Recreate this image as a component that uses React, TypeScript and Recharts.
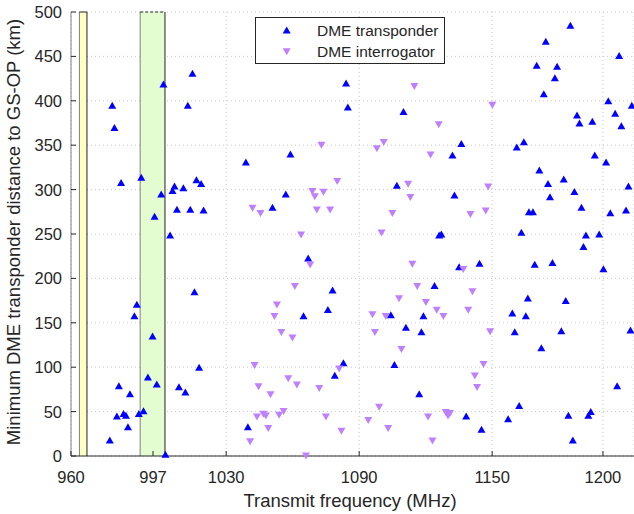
import React from "react";
import {
  ScatterChart,
  Scatter,
  XAxis,
  YAxis,
  CartesianGrid,
  ReferenceArea,
  ReferenceLine,
  Legend,
} from "recharts";

// DME transponders (MHz, km)
const transponderFreq = [
  978.6, 979.6, 1001.7, 1014.8, 1012.7, 1038.9, 982.6, 991.7, 1000.7, 1006.7,
  1005.8, 1010.7, 1016.6, 1018.7, 1007.8, 1013.8, 1019.8, 997.7, 1004.7, 1015.7,
  989.7, 988.6, 996.8, 1017.8, 994.7, 981.6, 998.7, 986.6, 1008.7, 1011.6,
  980.7, 983.7, 984.8, 990.6, 992.7, 985.7, 977.5, 1002.6, 1039.8, 1084.1,
  1084.9, 1110, 1059, 1107, 1056.9, 1050.9, 1126.1, 1067, 1078, 1075.9,
  1064.9, 1124, 1104.3, 1119, 1111.1, 1118.1, 1082.9, 1079, 1105.9, 1117.1,
  1185.3, 1174.2, 1207.3, 1170.1, 1179.3, 1178.3, 1173.3, 1202.4, 1213, 1205.5,
  1188.3, 1189.4, 1195.2, 1208.3, 1136.1, 1132.1, 1161.1, 1164.3, 1196.3, 1201.4,
  1171.3, 1175.2, 1182.3, 1187.1, 1211.5, 1176.1, 1133, 1190.3, 1166.6, 1168.4,
  1203.3, 1210.4, 1127.1, 1163.2, 1192.3, 1198.3, 1191.2, 1135.1, 1144.3, 1169.2,
  1177.2, 1200.2, 1166.1, 1183.2, 1159.1, 1165.2, 1160.2, 1181.2, 1212.4, 1172.2,
  1206.4, 1162.2, 1138.3, 1157.2, 1184.4, 1193.4, 1194.5, 1145.2, 1186.4,
];
const transponderDist = [
  395, 370, 419, 431, 395, 331, 308, 314, 295, 304,
  299, 302, 311, 307, 278, 278, 277, 270, 249, 185,
  171, 158, 135, 100, 89, 79, 81, 70, 78, 72,
  45, 48, 46, 48, 51, 33, 18, 2, 33, 420,
  393, 388, 340, 305, 295, 280, 249, 223, 187, 165,
  158, 192, 159, 158, 145, 140, 105, 91, 103, 70,
  485, 467, 451, 440, 439, 426, 408, 400, 395, 386,
  384, 375, 377, 372, 352, 339, 348, 354, 339, 331,
  322, 307, 312, 298, 304, 292, 294, 280, 275, 275,
  274, 277, 250, 252, 249, 250, 236, 213, 217, 216,
  218, 211, 178, 175, 161, 158, 140, 141, 142, 122,
  79, 57, 45, 42, 46, 46, 50, 30, 18,
];

// DME interrogators (MHz, km)
const interrogatorFreq = [
  1041.9, 1045.5, 1042.8, 1044.6, 1043.9, 1040.8, 1114.9, 1125.9, 1073, 1098,
  1101.1, 1122.2, 1080.1, 1068.9, 1070, 1073.9, 1112.1, 1113.1, 1070.9, 1076.9,
  1105, 1063.8, 1100.1, 1067.9, 1114, 1061, 1116.2, 1052.9, 1051.8, 1108,
  1120.1, 1125, 1096, 1102, 1054.9, 1059.9, 1097.1, 1109.1, 1081, 1058,
  1061.9, 1072, 1050, 1046.8, 1047.9, 1053.9, 1055.9, 1075, 1049, 1082,
  1066, 1099, 1094.1, 1103.1, 1121.1, 1123.1, 1150.1, 1148.2, 1140.2, 1147.1,
  1137, 1141.1, 1128, 1139.2, 1149.1, 1146.1, 1142.2, 1143.2, 1129.1, 1131,
  1130.1,
];
const interrogatorDist = [
  279, 273, 102, 78, 44, 16, 416, 373, 350, 346,
  353, 339, 309, 298, 292, 297, 306, 291, 277, 277,
  273, 249, 251, 215, 216, 191, 191, 170, 157, 177,
  173, 164, 159, 157, 139, 133, 139, 120, 98, 87,
  80, 76, 69, 47, 45, 46, 50, 44, 31, 28,
  0, 55, 40, 31, 44, 17, 395, 303, 272, 276,
  210, 185, 157, 164, 140, 103, 90, 77, 49, 48,
  45,
];

const xTicks = [960, 997, 1030, 1090, 1150, 1200];
const yTicks = [0, 50, 100, 150, 200, 250, 300, 350, 400, 450, 500];

const transponders = transponderFreq.map((x, i) => ({ x, y: transponderDist[i] }));
const interrogators = interrogatorFreq.map((x, i) => ({ x, y: interrogatorDist[i] }));

const FONT = "'Liberation Sans', Arial, Helvetica, sans-serif";
const TEXT = "#262626";
const BLUE = "#0000ff";
const PURPLE = "#bf80ff";

const UpTriangle = (p: any) => (
  <polygon
    points={`${p.cx},${p.cy - 3.5} ${p.cx - 4},${p.cy + 3.5} ${p.cx + 4},${p.cy + 3.5}`}
    fill={BLUE}
  />
);

const DownTriangle = (p: any) => (
  <polygon
    points={`${p.cx - 4},${p.cy - 3.5} ${p.cx + 4},${p.cy - 3.5} ${p.cx},${p.cy + 3.5}`}
    fill={PURPLE}
  />
);

const XTick = ({ x, y, payload }: any) => (
  <g>
    <line x1={x} x2={x} y1={y} y2={y - 5} stroke={TEXT} />
    <text x={x} y={y + 27} textAnchor="middle" fill={TEXT} fontSize={16.5} fontFamily={FONT}>
      {payload.value}
    </text>
  </g>
);

const YTick = ({ x, y, payload }: any) => (
  <g>
    <line x1={x} x2={x + 5} y1={y} y2={y} stroke={TEXT} />
    <text x={x - 9} y={y + 6} textAnchor="end" fill={TEXT} fontSize={16.5} fontFamily={FONT}>
      {payload.value}
    </text>
  </g>
);

const XLabel = () => (
  <text x={350} y={507} textAnchor="middle" fill={TEXT} fontSize={18.5} fontFamily={FONT}>
    Transmit frequency (MHz)
  </text>
);

const YLabel = () => (
  <text
    x={20}
    y={232}
    transform="rotate(-90 20 232)"
    textAnchor="middle"
    fill={TEXT}
    fontSize={18.5}
    fontFamily={FONT}
  >
    Minimum DME transponder distance to GS-OP (km)
  </text>
);

const LegendBox = () => (
  <svg width={190} height={47} style={{ display: "block" }}>
    <rect x={0.5} y={0.5} width={189} height={46} fill="#fff" stroke={TEXT} />
    <UpTriangle cx={31.7} cy={13} />
    <text x={62} y={18.5} fontSize={15.5} fill={TEXT} fontFamily={FONT}>
      DME transponder
    </text>
    <DownTriangle cx={31.7} cy={34.7} />
    <text x={62} y={40} fontSize={15.5} fill={TEXT} fontFamily={FONT}>
      DME interrogator
    </text>
  </svg>
);

export default function App() {
  return (
    <div style={{ position: "absolute", left: 0, top: 0, fontFamily: FONT }}>
      <ScatterChart
        width={634}
        height={514}
        margin={{ top: 12, right: 0, bottom: 0, left: 0 }}
      >
        <ReferenceArea x1={963.8} x2={967.2} y1={0} y2={500} fill="#ffffc4" fillOpacity={1} stroke="none" />
        <ReferenceArea x1={991.2} x2={1002.4} y1={0} y2={500} fill="#e3fdd0" fillOpacity={1} stroke="none" />
        <CartesianGrid stroke="#c8c8c8" strokeDasharray="1 3" />
        <ReferenceLine x={963.8} stroke="#808080" />
        <ReferenceLine x={967.2} stroke="#222" />
        <ReferenceLine segment={[{ x: 963.8, y: 500 }, { x: 967.2, y: 500 }]} stroke="#222" />
        <ReferenceLine x={991.2} stroke="#808080" />
        <ReferenceLine x={1002.4} stroke="#222" />
        <ReferenceLine
          segment={[{ x: 991.2, y: 500 }, { x: 1002.4, y: 500 }]}
          stroke="#222"
          strokeDasharray="3 2"
        />
        <XAxis
          type="number"
          dataKey="x"
          domain={[960, 1214]}
          ticks={xTicks}
          interval={0}
          height={58}
          stroke={TEXT}
          tickLine={false}
          tickSize={0}
          tickMargin={0}
          tick={<XTick />}
          label={<XLabel />}
        />
        <YAxis
          type="number"
          dataKey="y"
          domain={[0, 500]}
          ticks={yTicks}
          interval={0}
          width={71}
          stroke="#808080"
          tickLine={false}
          tickSize={0}
          tickMargin={0}
          tick={<YTick />}
          label={<YLabel />}
        />
        <Legend
          content={<LegendBox />}
          layout="vertical"
          align="center"
          verticalAlign="middle"
          wrapperStyle={{ left: 255, top: 17, width: 190, height: 47 }}
        />
        <Scatter
          name="DME transponder"
          data={transponders}
          shape={<UpTriangle />}
          isAnimationActive={false}
        />
        <Scatter
          name="DME interrogator"
          data={interrogators}
          shape={<DownTriangle />}
          isAnimationActive={false}
        />
      </ScatterChart>
    </div>
  );
}
